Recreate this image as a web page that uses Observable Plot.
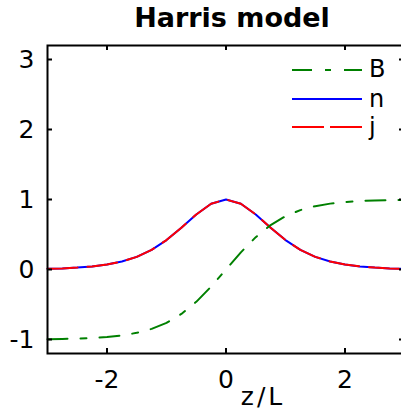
<!DOCTYPE html>
<html><head><meta charset="utf-8">
<script src="https://cdn.jsdelivr.net/npm/d3@7"></script>
<script src="https://cdn.jsdelivr.net/npm/@observablehq/plot@0.6"></script>
<style>
html,body{margin:0;padding:0;overflow:hidden;background:#fff;width:401px;height:411px}
#wrap{position:relative;width:401px;height:411px;overflow:hidden;background:#fff}
#title{position:absolute;left:232px;top:0;transform:translateX(-50%);font:bold 27px "DejaVu Sans";line-height:35px;white-space:nowrap;color:#000}
#chart{position:absolute;left:0;top:35px;width:410px}
#chart svg{max-width:none !important;width:410px;height:376px}
#xlabel{position:absolute;left:263px;top:387px;transform:translateX(-50%);font:25px "DejaVu Sans";line-height:20px;letter-spacing:3px;white-space:nowrap;color:#000}
#legend{position:absolute;left:0;top:0;pointer-events:none}
</style></head>
<body><div id="wrap">
<div id="title">Harris model</div>
<div id="chart"></div>
<div id="xlabel">z/L</div>
</div>
<script>
// z/L sample positions
const z = [-3, -2.75, -2.5, -2.25, -2, -1.75, -1.5, -1.25, -1, -0.75, -0.5, -0.25, 0,
           0.25, 0.5, 0.75, 1, 1.25, 1.5, 1.75, 2, 2.25, 2.5, 2.75, 3];
// B (green, dash-dot)
const B = [-0.995, -0.992, -0.987, -0.978, -0.964, -0.941, -0.905, -0.848, -0.762, -0.635, -0.462, -0.245, 0,
           0.245, 0.462, 0.635, 0.762, 0.848, 0.905, 0.941, 0.964, 0.978, 0.987, 0.992, 0.995];
// n (blue, solid)
const n = [0.010, 0.016, 0.027, 0.044, 0.071, 0.114, 0.181, 0.280, 0.420, 0.597, 0.786, 0.940, 1.000,
           0.940, 0.786, 0.597, 0.420, 0.280, 0.181, 0.114, 0.071, 0.044, 0.027, 0.016, 0.010];
// j (red, dashed)
const j = [0.010, 0.016, 0.027, 0.044, 0.071, 0.114, 0.181, 0.280, 0.420, 0.597, 0.786, 0.940, 1.000,
           0.940, 0.786, 0.597, 0.420, 0.280, 0.181, 0.114, 0.071, 0.044, 0.027, 0.016, 0.010];
const xTicks = [-2, 0, 2];
const yTicks = [-1, 0, 1, 2, 3];
const seriesNames = ["B", "n", "j"];
const seriesColors = ["#008000", "#0000ff", "#ff0000"];

const rows = z.map((v, i) => ({z: v, B: B[i], n: n[i], j: j[i]}));
const fmt = d => String(d);

const W = 410, H = 376, ML = 47, MR = 6, MT = 10, MB = 58, TL = 5;
const innerW = W - ML - MR, innerH = H - MT - MB;

const plot = Plot.plot({
  width: W, height: H,
  marginLeft: ML, marginRight: MR, marginTop: MT, marginBottom: MB,
  x: {domain: [-3, 3]},
  y: {domain: [-1.2, 3.2]},
  style: {fontFamily: "DejaVu Sans", fontSize: "25px", background: "white", color: "black", overflow: "visible", maxWidth: "none"},
  marks: [
    Plot.line(rows, {x: "z", y: "n", stroke: seriesColors[1], strokeWidth: 2}),
    Plot.line(rows, {x: "z", y: "j", stroke: seriesColors[2], strokeWidth: 2, strokeDasharray: "30,10"}),
    Plot.line(rows, {x: "z", y: "B", stroke: seriesColors[0], strokeWidth: 2, strokeDasharray: "20,13,6,13"}),
    // inward ticks on all four sides
    Plot.tickX(xTicks, {x: d => d, insetTop: innerH - TL, stroke: "black", strokeWidth: 2}),
    Plot.tickX(xTicks, {x: d => d, insetBottom: innerH - TL, stroke: "black", strokeWidth: 2}),
    Plot.tickY(yTicks, {y: d => d, insetRight: innerW - TL, stroke: "black", strokeWidth: 2}),
    Plot.tickY(yTicks, {y: d => d, insetLeft: innerW - TL, stroke: "black", strokeWidth: 2}),
    Plot.axisX(xTicks, {anchor: "bottom", tickSize: 0, tickPadding: 17, tickFormat: fmt, label: null, fontSize: 25}),
    Plot.axisY(yTicks, {anchor: "left", tickSize: 0, tickPadding: 13, tickFormat: fmt, label: null, fontSize: 25}),
    Plot.frame({stroke: "black", strokeWidth: 2})
  ]
});
document.getElementById("chart").appendChild(plot);

// legend overlay (inside the axes, top right)
const ns = "http://www.w3.org/2000/svg";
const leg = document.createElementNS(ns, "svg");
leg.setAttribute("id", "legend");
leg.setAttribute("width", 401); leg.setAttribute("height", 411);
const legRows = [
  {y: 70, base: 77, dash: "20,13,6,13"},
  {y: 99, base: 107, dash: null},
  {y: 127, base: 135, dash: "32,6"}
];
legRows.forEach((r, i) => {
  const ln = document.createElementNS(ns, "line");
  ln.setAttribute("x1", 292); ln.setAttribute("x2", 362);
  ln.setAttribute("y1", r.y); ln.setAttribute("y2", r.y);
  ln.setAttribute("stroke", seriesColors[i]); ln.setAttribute("stroke-width", 2);
  if (r.dash) ln.setAttribute("stroke-dasharray", r.dash);
  leg.appendChild(ln);
  const t = document.createElementNS(ns, "text");
  t.setAttribute("x", 369); t.setAttribute("y", r.base);
  t.setAttribute("font-family", "DejaVu Sans"); t.setAttribute("font-size", 24);
  t.textContent = seriesNames[i];
  leg.appendChild(t);
});
document.getElementById("wrap").appendChild(leg);
</script>
</body></html>
